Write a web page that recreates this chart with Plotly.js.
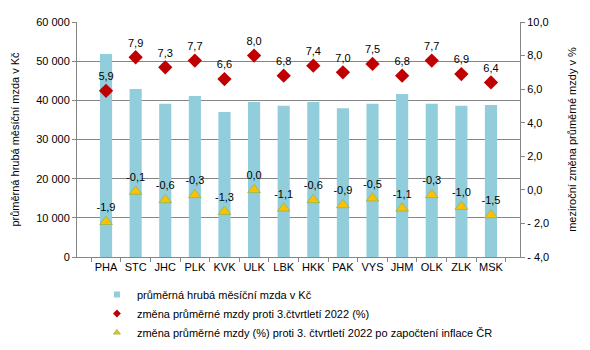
<!DOCTYPE html>
<html><head><meta charset="utf-8">
<script src="https://cdn.plot.ly/plotly-3.0.1.min.js"></script>
<style>body{margin:0;padding:0;background:#fff}#chart{width:590px;height:350px}</style>
</head><body><div id="chart"></div>
<script>
const regions = ["PHA","STC","JHC","PLK","KVK","ULK","LBK","HKK","PAK","VYS","JHM","OLK","ZLK","MSK"];
const wage = [51800,42900,39100,41100,37000,39600,38600,39600,38000,39100,41600,39100,38600,38800];
const nominalChange = [5.9,7.9,7.3,7.7,6.6,8.0,6.8,7.4,7.0,7.5,6.8,7.7,6.9,6.4];
const realChange = [-1.9,-0.1,-0.6,-0.3,-1.3,0.0,-1.1,-0.6,-0.9,-0.5,-1.1,-0.3,-1.0,-1.5];
const leftTicks = [0,10000,20000,30000,40000,50000,60000];
const leftTickText = ["0","10 000","20 000","30 000","40 000","50 000","60 000"];
const rightTicks = [-4,-2,0,2,4,6,8,10];
const rightTickText = ["- 4,0","- 2,0","0,0","2,0","4,0","6,0","8,0","10,0"];
const seriesNames = ["průměrná hrubá měsíční mzda v Kč","změna průměrné mzdy proti 3.čtvrtletí 2022 (%)","změna průměrné mzdy (%) proti 3. čtvrtletí 2022 po započtení inflace ČR"];

const fmt = v => v.toFixed(1).replace('.', ',');
const fam = "Liberation Sans, Arial, sans-serif";
const font = {family: fam, size: 11, color: "#000"};

const traces = [
  {type:'bar', x: regions, y: wage, name: seriesNames[0], marker:{color:'#92CDDC'}, yaxis:'y', showlegend:false},
  {type:'scatter', mode:'markers+text', x: regions, y: nominalChange, yaxis:'y2', name: seriesNames[1], showlegend:false,
   marker:{symbol:'diamond', size:11, color:'#C00000'}, text: nominalChange.map(fmt), textposition:'top center',
   textfont:font, cliponaxis:false},
  {type:'scatter', mode:'markers+text', x: regions, y: realChange, yaxis:'y2', name: seriesNames[2], showlegend:false,
   marker:{symbol:'triangle-up', size:11, color:'#FFC000', line:{color:'#9BBB59', width:1}}, text: realChange.map(fmt), textposition:'top center',
   textfont:font, cliponaxis:false},
  // legend entries with small symbols
  {type:'scatter', mode:'markers', x:[null], y:[null], name: seriesNames[0], marker:{symbol:'square', size:6, color:'#92CDDC'}},
  {type:'scatter', mode:'markers', x:[null], y:[null], yaxis:'y2', name: seriesNames[1], marker:{symbol:'diamond', size:6, color:'#C00000'}},
  {type:'scatter', mode:'markers', x:[null], y:[null], yaxis:'y2', name: seriesNames[2], marker:{symbol:'triangle-up', size:6, color:'#FFC000', line:{color:'#9BBB59', width:1}}}
];

const layout = {
  width:590, height:350,
  margin:{l:77, r:70, t:22, b:93},
  paper_bgcolor:'#fff', plot_bgcolor:'#fff',
  font: font,
  bargap: 0.59,
  showlegend:true,
  legend:{orientation:'v', x:0.045, xanchor:'left', yref:'container', y:0.2, yanchor:'top', font:font, tracegroupgap:0, itemsizing:'trace', itemwidth:30, bgcolor:'rgba(0,0,0,0)'},
  xaxis:{type:'category', automargin:false, tickangle:0, showline:true, linecolor:'#868686', ticks:'outside', tickson:'boundaries', ticklen:4, tickcolor:'#868686', showgrid:false, tickfont:font},
  yaxis:{range:[0,60000], automargin:false, tickvals:leftTicks, ticktext:leftTickText, showline:true, linecolor:'#868686', ticks:'outside', ticklen:4, tickcolor:'#868686', gridcolor:'#868686', gridwidth:1, zeroline:false,
    title:{text:'průměrná hrubá měsíční mzda v Kč', font:font, standoff:14}, tickfont:font},
  yaxis2:{range:[-4,10], automargin:false, overlaying:'y', side:'right', tickvals:rightTicks, ticktext:rightTickText, showline:true, linecolor:'#868686', ticks:'outside', ticklen:4, tickcolor:'#868686', showgrid:false, zeroline:false,
    title:{text:'meziroční změna průměrné mzdy v %', font:font, standoff:20}, tickfont:font}
};
Plotly.newPlot('chart', traces, layout, {staticPlot:true, displayModeBar:false});
</script></body></html>
